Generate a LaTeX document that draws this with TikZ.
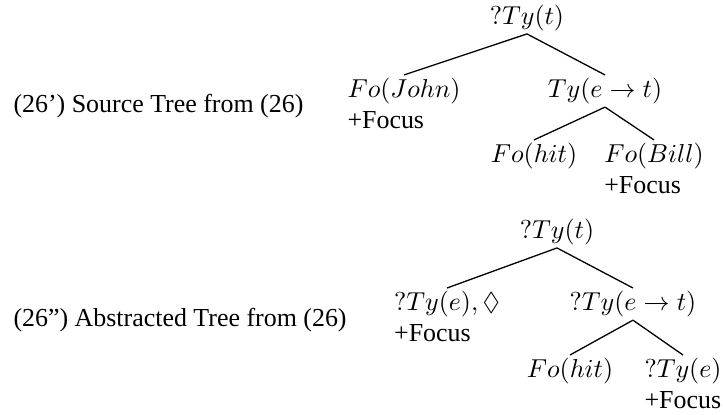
\documentclass[tikz,border=0pt]{standalone}
\usepackage{amsmath,amssymb}
\usepackage[no-math]{fontspec}
\setmainfont{Liberation Serif}
\usepackage{tikz}
\usetikzlibrary{positioning}

\tikzset{
  treenode/.style={inner sep=1pt, align=left},
  caption/.style={inner sep=0pt, anchor=base west},
  branch/.style={line width=0.5pt}
}

\begin{document}
\begin{tikzpicture}[x=1cm, y=1cm]
\useasboundingbox (0,0) rectangle (9.8,5.625);
% ---- source tree --------------------------------------------------
\node[caption] (srclabel) at (0.176,4.094) {(26') Source Tree from (26)};
\node[treenode, anchor=south] (srcroot) at (7.143,5.165) {$?Ty(t)$};
\node[treenode, anchor=north] (john) at (5.476,4.609) {$Fo(John)$\\+Focus};
\node[treenode, anchor=north] (srcpred) at (8.201,4.609) {$Ty(e\rightarrow t)$};
\node[treenode, anchor=north] (srchit) at (7.238,3.728) {$Fo(hit)$};
\node[treenode, anchor=north] (bill) at (8.865,3.728) {$Fo(Bill)$\\+Focus};
\draw[branch] (srcroot.south) -- (john.north);
\draw[branch] (srcroot.south) -- (srcpred.north);
\draw[branch] (srcpred.south) -- (srchit.north);
\draw[branch] (srcpred.south) -- (bill.north);
% ---- abstracted tree ----------------------------------------------
\node[caption] (abslabel) at (0.176,1.206) {(26'') Abstracted Tree from (26)};
\node[treenode, anchor=south] (absroot) at (7.550,2.264) {$?Ty(t)$};
\node[treenode, anchor=north] (abssubj) at (6.059,1.721) {$?Ty(e),\Diamond$\\+Focus};
\node[treenode, anchor=north] (abspred) at (8.580,1.721) {$?Ty(e\rightarrow t)$};
\node[treenode, anchor=north] (abshit) at (7.726,0.813) {$Fo(hit)$};
\node[treenode, anchor=north] (absobj) at (9.258,0.813) {$?Ty(e)$\\+Focus};
\draw[branch] (absroot.south) -- (abssubj.north);
\draw[branch] (absroot.south) -- (abspred.north);
\draw[branch] (abspred.south) -- (abshit.north);
\draw[branch] (abspred.south) -- (absobj.north);
\end{tikzpicture}
\end{document}
